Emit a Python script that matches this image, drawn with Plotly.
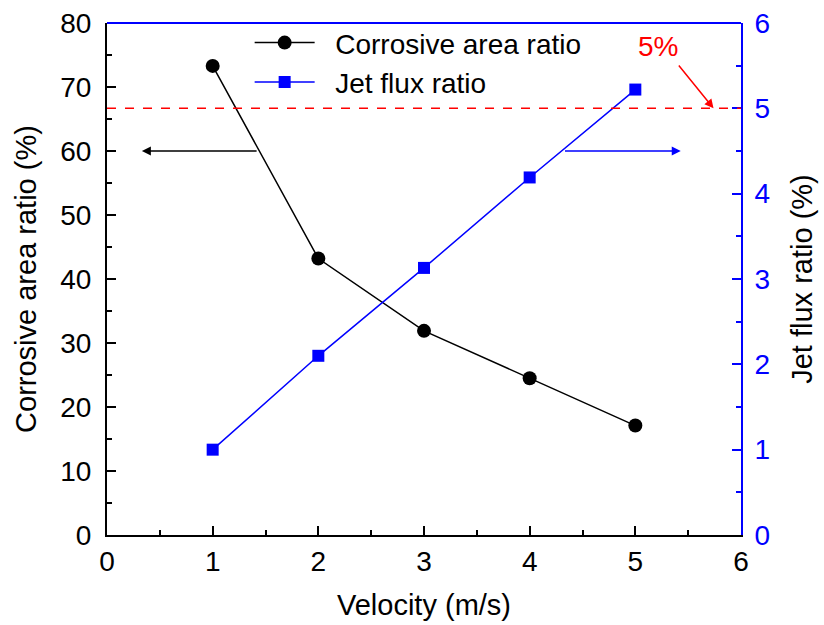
import plotly.graph_objects as go

velocity = [1, 2, 3, 4, 5]
corrosive_area_ratio = [73.3, 43.2, 31.9, 24.5, 17.1]
jet_flux_ratio = [1.0, 2.1, 3.13, 4.19, 5.22]
threshold = 5
x_ticks = [0, 1, 2, 3, 4, 5, 6]
y_ticks = [0, 10, 20, 30, 40, 50, 60, 70, 80]
y2_ticks = [0, 1, 2, 3, 4, 5, 6]

FONT = "Liberation Sans, Arial, sans-serif"
BLUE = "#0000ff"
TICK = 28
TITLE = 29

fig = go.Figure()
fig.add_trace(go.Scatter(
    x=velocity, y=corrosive_area_ratio, name="\u00a0\u00a0Corrosive area ratio",
    mode="lines+markers", line=dict(color="black", width=1.5),
    marker=dict(symbol="circle", size=14, color="black"), yaxis="y"))
fig.add_trace(go.Scatter(
    x=velocity, y=jet_flux_ratio, name="\u00a0\u00a0Jet flux ratio",
    mode="lines+markers", line=dict(color=BLUE, width=1.5),
    marker=dict(symbol="square", size=12, color=BLUE), yaxis="y2"))

# dashed threshold line
fig.add_shape(type="line", xref="paper", x0=0, x1=1, yref="y2", y0=threshold, y1=threshold,
              line=dict(color="red", width=1.5, dash="dash"))
# blue top border
fig.add_shape(type="line", xref="paper", yref="paper", x0=0, x1=1, y0=1, y1=1,
              line=dict(color=BLUE, width=2))

# arrows
fig.add_annotation(x=0.33, y=60, ax=1.43, ay=60, xref="x", yref="y", axref="x", ayref="y",
                   showarrow=True, arrowhead=2, arrowsize=1.2, arrowwidth=1.5, arrowcolor="black", text="")
fig.add_annotation(x=5.43, y=60, ax=4.32, ay=60, xref="x", yref="y", axref="x", ayref="y",
                   showarrow=True, arrowhead=2, arrowsize=1.2, arrowwidth=1.5, arrowcolor=BLUE, text="")
fig.add_annotation(x=5.74, y=threshold, ax=5.40, ay=5.52, xref="x", yref="y2", axref="x", ayref="y2",
                   showarrow=True, arrowhead=2, arrowsize=1.2, arrowwidth=1.5, arrowcolor="red", text="")
fig.add_annotation(x=5.21, y=5.72, xref="x", yref="y2", text="5%", showarrow=False,
                   font=dict(color="red", size=TICK, family=FONT))

fig.update_layout(
    width=824, height=625,
    margin=dict(l=107, r=83, t=23, b=90),
    plot_bgcolor="white", paper_bgcolor="white",
    font=dict(family=FONT, size=TICK, color="black"),
    showlegend=True,
    legend=dict(x=0.225, y=1.01, xanchor="left", yanchor="top", bgcolor="rgba(0,0,0,0)",
                font=dict(size=TICK, family=FONT), tracegroupgap=0, itemwidth=60),
    xaxis=dict(range=[0, 6], tickvals=x_ticks, showline=True, linecolor="black", linewidth=2,
               ticks="inside", ticklen=9, tickwidth=1.5, tickcolor="black", showgrid=False, zeroline=False,
               ticklabelstandoff=0, automargin=False,
               minor=dict(dtick=0.5, ticks="inside", ticklen=5, tickwidth=1.5, tickcolor="black"),
               title=dict(text="Velocity (m/s)", font=dict(size=TITLE), standoff=19)),
    yaxis=dict(range=[0, 80], tickvals=y_ticks, showline=True, linecolor="black", linewidth=2,
               ticks="inside", ticklen=9, tickwidth=1.5, tickcolor="black", showgrid=False, zeroline=False,
               ticklabelstandoff=8, automargin=False,
               minor=dict(dtick=5, ticks="inside", ticklen=5, tickwidth=1.5, tickcolor="black"),
               title=dict(text="Corrosive area ratio (%)", font=dict(size=TITLE), standoff=15)),
    yaxis2=dict(range=[0, 6], tickvals=y2_ticks, overlaying="y", side="right", showline=True,
                linecolor=BLUE, linewidth=2, ticks="inside", ticklen=9, tickwidth=1.5, tickcolor=BLUE,
                tickfont=dict(color=BLUE, size=TICK), showgrid=False, zeroline=False,
                ticklabelstandoff=6, automargin=False,
                minor=dict(dtick=0.5, ticks="inside", ticklen=5, tickwidth=1.5, tickcolor=BLUE),
                title=dict(text="Jet flux ratio (%)", font=dict(size=TITLE, color="black"), standoff=23)),
)

fig.write_html("out.html")
